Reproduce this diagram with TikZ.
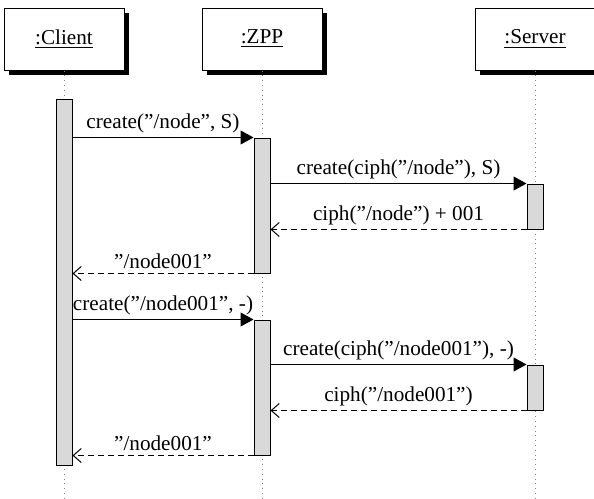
\documentclass[tikz,border=0pt]{standalone}
\usepackage{fontspec}
\setmainfont{Liberation Serif}
\usetikzlibrary{arrows.meta,shadows}

\tikzset{
	objbox/.style={draw, fill=white, line width=0.5pt, minimum width=60pt, minimum height=31pt,
		drop shadow={shadow xshift=2.5pt, shadow yshift=-2.5pt, fill=black, opacity=1}},
	actbar/.style={draw, fill=gray!30, line width=0.5pt, minimum width=8pt, inner sep=0pt},
	lifeline/.style={gray, line width=0.4pt, dash pattern=on 0.4pt off 2pt},
	call/.style={line width=0.5pt, -{Triangle[length=6.5pt,width=7pt]}},
	reply/.style={line width=0.5pt, dash pattern=on 3pt off 2pt, -{Straight Barb[length=4pt,width=7pt]}},
	lbl/.style={font=\fontsize{10.6}{13}\selectfont, inner sep=2pt},
}

\begin{document}
\begin{tikzpicture}[x=0.5pt,y=-0.5pt,every node/.style={font=\fontsize{10.6}{13}\selectfont}]
	\useasboundingbox (0,0) rectangle (594,498);
	% objects
	\node[objbox] (client) at (64,39) {\underline{:Client}};
	\node[objbox] (zpp) at (262,39) {\underline{:ZPP}};
	\node[objbox] (server) at (535,39) {\underline{:Server}};
	\draw[lifeline] (client.south) -- (client.south |- 0,498);
	\draw[lifeline] (zpp.south) -- (zpp.south |- 0,498);
	\draw[lifeline] (server.south) -- (server.south |- 0,498);
	% activations
	\node[actbar, minimum height=183pt] (cact) at (64,282) {};
	\node[actbar, minimum height=67.5pt] (zact1) at (262,205.5) {};
	\node[actbar, minimum height=67.5pt] (zact2) at (262,387.5) {};
	\node[actbar, minimum height=22.5pt] (sact1) at (535,206.5) {};
	\node[actbar, minimum height=22.5pt] (sact2) at (535,387.5) {};
	% messages
	\draw[call] (cact.east |- zact1.north) -- node[lbl,above] {create(”/node”, S)} (zact1.north west);
	\draw[call] (zact1.east |- sact1.north) -- node[lbl,above] {create(ciph(”/node”), S)} (sact1.north west);
	\draw[reply] (sact1.south west) -- node[lbl,above] {ciph(”/node”) + 001} (zact1.east |- sact1.south);
	\draw[reply] (zact1.south west) -- node[lbl,above] {”/node001”} (cact.east |- zact1.south);
	\draw[call] (cact.east |- zact2.north) -- node[lbl,above] {create(”/node001”, -)} (zact2.north west);
	\draw[call] (zact2.east |- sact2.north) -- node[lbl,above] {create(ciph(”/node001”), -)} (sact2.north west);
	\draw[reply] (sact2.south west) -- node[lbl,above] {ciph(”/node001”)} (zact2.east |- sact2.south);
	\draw[reply] (zact2.south west) -- node[lbl,above] {”/node001”} (cact.east |- zact2.south);
\end{tikzpicture}
\end{document}
